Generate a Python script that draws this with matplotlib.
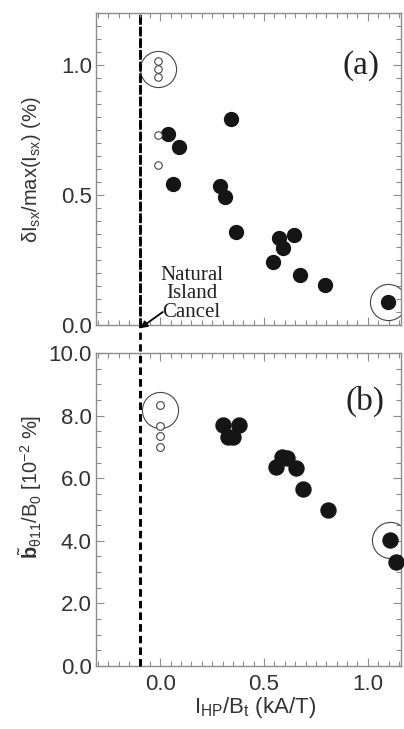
import matplotlib
matplotlib.use("Agg")
import matplotlib.pyplot as plt
from matplotlib.ticker import MultipleLocator, FixedLocator
from matplotlib.lines import Line2D
import matplotlib.transforms as mtransforms

plt.rcParams['font.family'] = ['Liberation Sans', 'DejaVu Sans']
plt.rcParams['mathtext.fontset'] = 'custom'
plt.rcParams['mathtext.rm'] = 'Liberation Sans'
plt.rcParams['mathtext.it'] = 'Liberation Sans:italic'
plt.rcParams['mathtext.bf'] = 'Liberation Sans:bold'

# ---------------- data ----------------
# panel (a)
a_open_x = [-0.013, -0.013, -0.013, -0.013, -0.013]
a_open_y = [1.015, 0.983, 0.955, 0.730, 0.617]
a_fill_x = [0.039, 0.092, 0.063, 0.341, 0.290, 0.314, 0.367, 0.572, 0.591, 0.643, 0.543, 0.671, 0.792, 1.095]
a_fill_y = [0.733, 0.686, 0.542, 0.793, 0.535, 0.494, 0.356, 0.336, 0.297, 0.347, 0.242, 0.191, 0.153, 0.090]
a_ring_x = [-0.013, 1.095]
a_ring_y = [0.983, 0.090]

# panel (b)
b_open_x = [0.0, 0.0, 0.0, 0.0]
b_open_y = [8.35, 7.67, 7.34, 7.00]
b_fill_x = [0.301, 0.378, 0.325, 0.349, 0.585, 0.612, 0.559, 0.655, 0.687, 0.808, 1.106, 1.138]
b_fill_y = [7.69, 7.69, 7.33, 7.33, 6.68, 6.66, 6.36, 6.34, 5.67, 4.98, 4.02, 3.33]
b_ring_x = [0.0, 1.106]
b_ring_y = [8.19, 4.02]

cancel_x = -0.1

a_yticks = [0.0, 0.5, 1.0]
a_yticklabels = ['0.0', '0.5', '1.0']
b_yticks = [0.0, 2.0, 4.0, 6.0, 8.0, 10.0]
b_yticklabels = ['0.0', '2.0', '4.0', '6.0', '8.0', '10.0']
xticks = [0.0, 0.5, 1.0]
xticklabels = ['0.0', '0.5', '1.0']

# ---------------- figure ----------------
W, H = 404, 729
fig = plt.figure(figsize=(W / 100, H / 100), dpi=100)

def fr(l, t, r, b):
    return [l / W, 1 - b / H, (r - l) / W, (b - t) / H]

axa = fig.add_axes(fr(96, 13, 401, 325))
axb = fig.add_axes(fr(96, 353, 401, 666))

spine_c = '#8c8c8c'
text_c = '#333333'
fill_c = '#151515'

for ax in (axa, axb):
    ax.set_xlim(-0.31, 1.16)
    for s in ax.spines.values():
        s.set_color(spine_c)
        s.set_linewidth(1.0)
    ax.tick_params(which='both', direction='in', top=True, right=True,
                   color=spine_c, labelcolor=text_c, labelsize=16, width=0.8)
    ax.tick_params(which='major', length=6, pad=3)
    ax.tick_params(which='minor', length=3.5)
    ax.xaxis.set_major_locator(FixedLocator(xticks))
    ax.xaxis.set_minor_locator(MultipleLocator(0.05))
    ax.axvline(cancel_x, color='black', lw=2.0, ls=(0, (2.6, 1.6)), zorder=1)

axa.set_ylim(0, 1.2)
axa.set_yticks(a_yticks)
axa.set_yticklabels(a_yticklabels)
axa.yaxis.set_minor_locator(MultipleLocator(0.05))
axa.set_xticklabels([])

axb.set_ylim(0, 10.0)
axb.set_yticks(b_yticks)
axb.set_yticklabels(b_yticklabels)
axb.yaxis.set_minor_locator(MultipleLocator(0.5))
axb.set_xticklabels(xticklabels)
axb.tick_params(axis='x', pad=6)

# markers
axa.plot(a_fill_x, a_fill_y, 'o', ms=10.0, color=fill_c, mec=fill_c, zorder=3)
axa.plot(a_open_x, a_open_y, 'o', ms=5.4, mfc='white', mec='#444444', mew=0.8, zorder=4)
axa.plot(a_ring_x, a_ring_y, 'o', ms=26, mfc='none', mec='#444444', mew=0.8, zorder=2)

axb.plot(b_fill_x, b_fill_y, 'o', ms=10.8, color=fill_c, mec=fill_c, zorder=3, clip_on=False)
axb.plot(b_open_x, b_open_y, 'o', ms=5.6, mfc='white', mec='#444444', mew=0.8, zorder=4)
axb.plot(b_ring_x, b_ring_y, 'o', ms=26, mfc='none', mec='#444444', mew=0.8, zorder=2)

# panel labels
axa.text(0.869, 0.833, '(a)', transform=axa.transAxes, ha='center', va='center',
         fontsize=24, family='Liberation Serif', color='#222222')
axb.text(0.882, 0.844, '(b)', transform=axb.transAxes, ha='center', va='center',
         fontsize=24, family='Liberation Serif', color='#222222')

# natural island cancel annotation
axa.text(0.15, 0.12, 'Natural\nIsland\nCancel', ha='center', va='center',
         fontsize=15, family='Liberation Serif', color='#222222', linespacing=0.98)
axa.annotate('', xy=(-0.097, -0.012), xytext=(0.012, 0.05),
             arrowprops=dict(arrowstyle='-|>', color='black', lw=1.3,
                             mutation_scale=10, shrinkA=0, shrinkB=0),
             annotation_clip=False)

# dashed line through the gap between panels
trans = mtransforms.blended_transform_factory(axa.transData, fig.transFigure)
fig.add_artist(Line2D([cancel_x, cancel_x], [1 - 666 / H, 1 - 13 / H], transform=trans,
                      color='black', lw=2.0, ls=(0, (2.6, 1.6)), zorder=1))

# axis labels
fig.text(32 / W, 1 - 170 / H, r'δI$_{\mathregular{sx}}$/max(I$_{\mathregular{sx}}$) (%)',
         rotation=90, ha='center', va='center', fontsize=14.5, color=text_c)
fig.text(30 / W, 1 - 487 / H,
         r'$\tilde{\mathbf{b}}$$_{\mathregular{θ11}}$/B$_{\mathregular{0}}$ [10$^{\mathregular{-2}}$ %]',
         rotation=90, ha='center', va='center', fontsize=14.5, color=text_c)
fig.text(255 / W, 1 - 713 / H, r'I$_{\mathregular{HP}}$/B$_{\mathregular{t}}$ (kA/T)',
         ha='center', va='baseline', fontsize=16, color=text_c)

fig.savefig('out.png', dpi=100)
